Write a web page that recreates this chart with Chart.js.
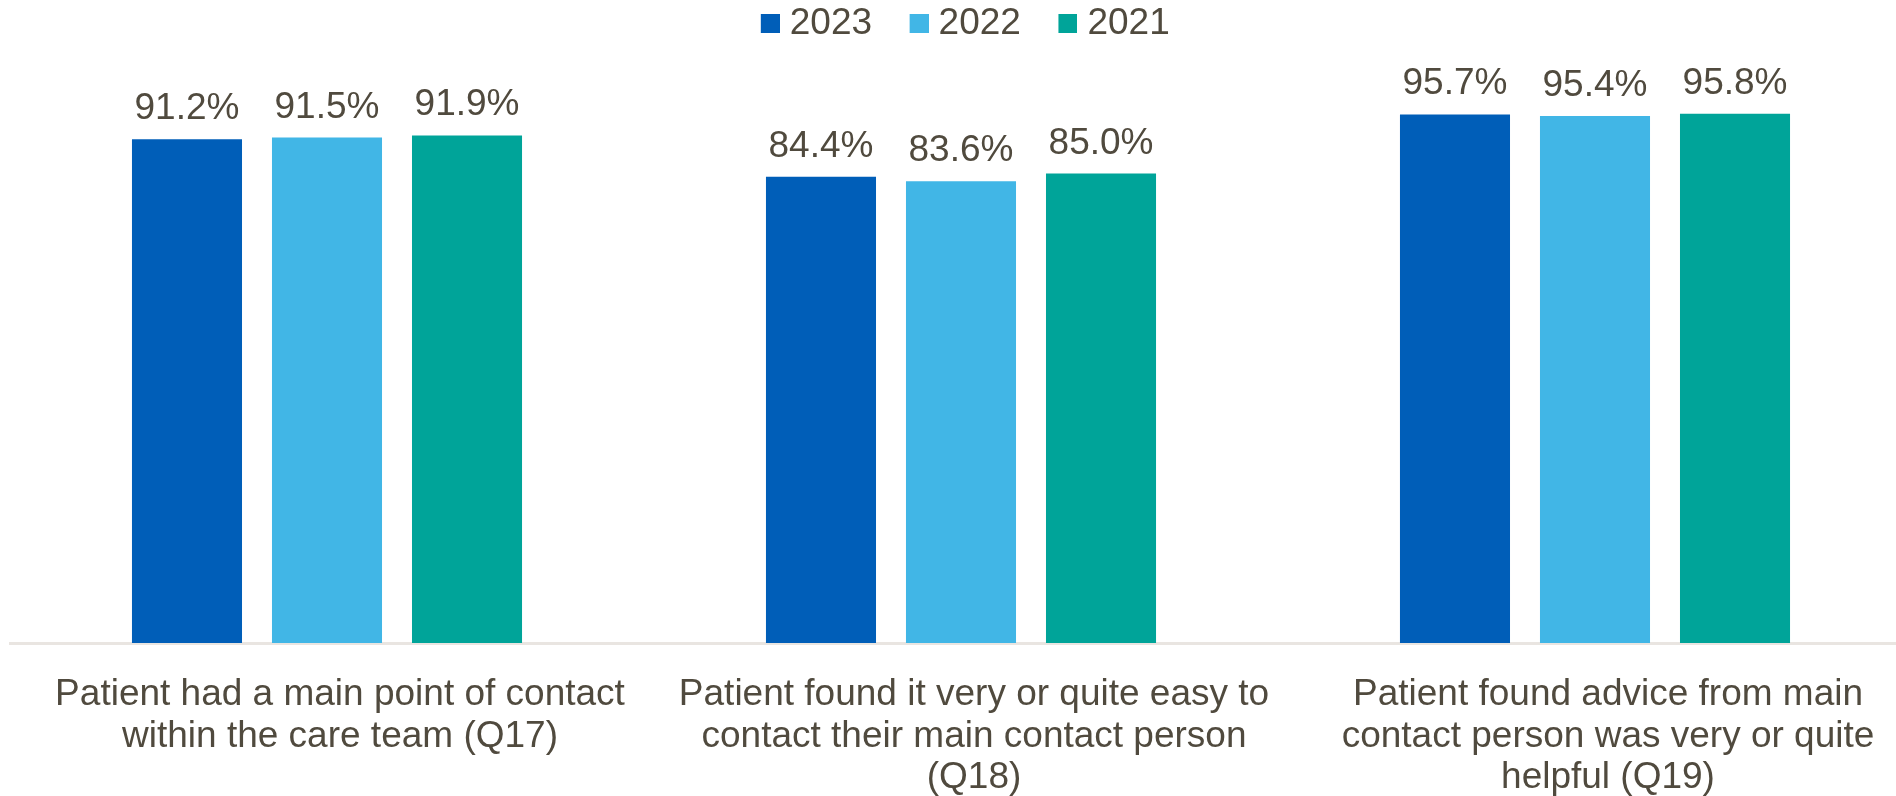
<!DOCTYPE html>
<html>
<head>
<meta charset="utf-8">
<script src="https://cdn.jsdelivr.net/npm/chart.js@4/dist/chart.umd.min.js"></script>
<style>
  html, body { margin: 0; padding: 0; background: #ffffff; overflow: hidden; }
  #wrap { position: relative; width: 1912px; height: 796px; }
</style>
</head>
<body>
<div id="wrap"><canvas id="chart"></canvas></div>
<script>
// Survey questions shown along the bottom axis
const categories = [
  ["Patient had a main point of contact", "within the care team (Q17)"],
  ["Patient found it very or quite easy to", "contact their main contact person", "(Q18)"],
  ["Patient found advice from main", "contact person was very or quite", "helpful (Q19)"]
];

// Percentage of patients answering positively, by survey year
const years = ["2023", "2022", "2021"];
const values2023 = [91.2, 84.4, 95.7];
const values2022 = [91.5, 83.6, 95.4];
const values2021 = [91.9, 85.0, 95.8];

const yearColors = ["#005EB8", "#41B6E6", "#00A499"];

const TEXT = "#504a3e";
const FONT = "'Liberation Sans', Arial, Helvetica, sans-serif";

// Legend swatch: a 19px square sitting at the right end of a wider transparent tile,
// so the square ends up close to its label
function swatch(color) {
  const c = document.createElement("canvas");
  c.width = 36;
  c.height = 19;
  const g = c.getContext("2d");
  g.fillStyle = color;
  g.fillRect(17, 0, 19, 19);
  return c;
}
const swatches = yearColors.map(swatch);

// Writes each bar's percentage just above it
const valueLabels = {
  id: "valueLabels",
  afterDatasetsDraw(chart) {
    const ctx = chart.ctx;
    ctx.save();
    ctx.font = "37px " + FONT;
    ctx.fillStyle = TEXT;
    ctx.textAlign = "center";
    ctx.textBaseline = "alphabetic";
    chart.data.datasets.forEach((ds, i) => {
      const meta = chart.getDatasetMeta(i);
      meta.data.forEach((bar, j) => {
        ctx.fillText(ds.data[j].toFixed(1) + "%", bar.x, bar.y - 20);
      });
    });
    ctx.restore();
  }
};

new Chart(document.getElementById("chart"), {
  type: "bar",
  data: {
    labels: categories,
    datasets: [
      { label: years[0], data: values2023, backgroundColor: yearColors[0] },
      { label: years[1], data: values2022, backgroundColor: yearColors[1] },
      { label: years[2], data: values2021, backgroundColor: yearColors[2] }
    ]
  },
  options: {
    responsive: true,
    maintainAspectRatio: false,
    animation: false,
    layout: { padding: { top: -24, left: 10, right: 0, bottom: -33.9 } },
    datasets: {
      bar: { categoryPercentage: 0.6625, barPercentage: 0.786, borderWidth: 0 }
    },
    scales: {
      x: {
        grid: { display: false, drawTicks: false },
        border: { display: true, color: "#e9e5e1", width: 3 },
        ticks: {
          color: TEXT,
          font: { family: FONT, size: 37, lineHeight: "41.7px" },
          padding: 30.9,
          labelOffset: 13,
          autoSkip: false,
          maxRotation: 0,
          minRotation: 0
        }
      },
      y: {
        display: false,
        min: 0,
        max: 107
      }
    },
    plugins: {
      legend: {
        position: "top",
        labels: {
          color: TEXT,
          font: { family: FONT, size: 37 },
          usePointStyle: true,
          pointStyleWidth: 19,
          boxHeight: 19,
          padding: 29,
          generateLabels(chart) {
            const items = Chart.defaults.plugins.legend.labels.generateLabels(chart);
            items.forEach((item) => { item.pointStyle = swatches[item.datasetIndex]; });
            return items;
          }
        }
      },
      tooltip: { enabled: false }
    }
  },
  plugins: [valueLabels]
});
</script>
</body>
</html>
